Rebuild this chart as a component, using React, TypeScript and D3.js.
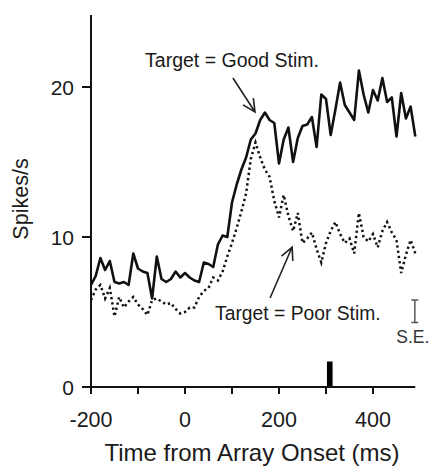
import React from "react";
import * as d3 from "d3";

// ---- data ----
const timeMs = [
  -200, -190, -180, -170, -160, -150, -140, -130, -120, -110,
  -100, -90, -80, -70, -60, -50, -40, -30, -20, -10,
  0, 10, 20, 30, 40, 50, 60, 70, 80, 90,
  100, 110, 120, 130, 140, 150, 160, 170, 180, 190,
  200, 210, 220, 230, 240, 250, 260, 270, 280, 290,
  300, 310, 320, 330, 340, 350, 360, 370, 380, 390,
  400, 410, 420, 430, 440, 450, 460, 470, 480, 490,
];
const goodStim = [
  6.8, 7.4, 8.6, 7.8, 8.4, 7.0, 6.9, 7.0, 6.8, 8.9,
  7.9, 7.7, 7.6, 5.9, 8.7, 7.2, 7.0, 7.2, 7.7, 7.3,
  7.6, 7.3, 7.1, 7.0, 8.3, 8.2, 8.0, 9.5, 10.1, 10.0,
  12.3, 13.5, 14.5, 15.3, 16.5, 16.9, 17.8, 18.3, 17.8, 17.6,
  14.9, 16.5, 17.3, 15.0, 16.6, 17.4, 17.5, 18.0, 16.0, 19.5,
  19.2, 16.8, 18.5, 20.3, 18.8, 18.3, 17.8, 21.1, 19.5, 18.3,
  19.8, 19.1, 20.6, 19.0, 19.3, 16.7, 19.6, 17.9, 18.7, 16.7,
];
const poorStim = [
  5.8, 6.5, 6.8, 5.9, 6.6, 4.7, 6.0, 5.3, 5.7, 6.0,
  5.5, 5.2, 4.8, 5.8, 5.9, 5.7, 5.5, 5.6, 5.2, 4.9,
  5.0, 5.3, 5.3, 6.0, 6.4, 6.6, 7.3, 7.1, 7.7, 8.7,
  9.6, 10.6, 11.7, 12.9, 15.2, 16.3, 15.3, 14.5, 14.0, 12.4,
  11.3, 12.8, 11.4, 10.4, 11.6, 9.6, 9.9, 10.3, 9.2, 8.3,
  9.6, 10.4, 11.0, 10.2, 9.6, 9.9, 8.9, 11.6, 10.0, 9.7,
  10.2, 9.3, 10.4, 11.0, 10.3, 9.8, 7.6, 8.8, 9.8, 8.9,
];
const xTicks = [-200, -100, 0, 100, 200, 300, 400];
const xTickLabels = ["-200", "", "0", "", "200", "", "400"];
const yTicks = [0, 10, 20];
const yTickLabels = ["0", "10", "20"];
const markerStart = [302];
const markerEnd = [314];
const markerHeight = [1.7];
const seTime = [489];
const seLow = [4.3];
const seHigh = [5.8];

const FONT = "'Liberation Sans', Arial, Helvetica, sans-serif";

export default function App() {
  const W = 432, H = 467;
  const x = d3.scaleLinear().domain([-200, 490]).range([91, 415.3]);
  const y = d3.scaleLinear().domain([0, 24.8]).range([387, 15]);

  const goodData = timeMs.map((t, i) => [t, goodStim[i]] as [number, number]);
  const poorData = timeMs.map((t, i) => [t, poorStim[i]] as [number, number]);
  const line = d3.line<[number, number]>().x(d => x(d[0])).y(d => y(d[1]));

  const arrow = (tail: [number, number], tip: [number, number]) => {
    const x0 = x(tail[0]), y0 = y(tail[1]), x1 = x(tip[0]), y1 = y(tip[1]);
    const ang = Math.atan2(y0 - y1, x0 - x1);
    const L = 14, a = (26 * Math.PI) / 180;
    const b1 = [x1 + L * Math.cos(ang + a), y1 + L * Math.sin(ang + a)];
    const b2 = [x1 + L * Math.cos(ang - a), y1 + L * Math.sin(ang - a)];
    return `M${x0},${y0}L${x1},${y1}M${b1[0]},${b1[1]}L${x1},${y1}L${b2[0]},${b2[1]}`;
  };

  const axisBottom = y(0);
  return (
    <svg width={W} height={H} style={{ position: "absolute", left: 0, top: 0, background: "#fff" }}>
      {/* marker bar */}
      <rect x={x(markerStart[0])} width={x(markerEnd[0]) - x(markerStart[0])}
        y={y(markerHeight[0])} height={y(0) - y(markerHeight[0])} fill="#000" />
      {/* axes */}
      <line x1={x(-200)} x2={x(-200)} y1={y(24.8)} y2={axisBottom + 6} stroke="#111" strokeWidth={2} />
      <line x1={x(-200)} x2={x(490)} y1={axisBottom} y2={axisBottom} stroke="#111" strokeWidth={2} />
      {yTicks.map((v, i) => (
        <g key={"y" + v}>
          <line x1={x(-200) - 9} x2={x(-200)} y1={y(v)} y2={y(v)} stroke="#111" strokeWidth={2} />
          <text x={74} y={y(v) + 7.5} textAnchor="end" fontFamily={FONT} fontSize={21} fill="#1a1a1a">{yTickLabels[i]}</text>
        </g>
      ))}
      {xTicks.map((t, i) => (
        <g key={"x" + t}>
          <line x1={x(t)} x2={x(t)} y1={axisBottom} y2={axisBottom + 7} stroke="#111" strokeWidth={2} />
          <text x={x(t)} y={427} textAnchor="middle" fontFamily={FONT} fontSize={21.5} fill="#1a1a1a">{xTickLabels[i]}</text>
        </g>
      ))}
      <text x={252} y={461} textAnchor="middle" fontFamily={FONT} fontSize={24} fill="#1a1a1a">Time from Array Onset (ms)</text>
      <text transform={`translate(28,199) rotate(-90)`} textAnchor="middle" fontFamily={FONT} fontSize={21.5} fill="#1a1a1a">Spikes/s</text>

      {/* series */}
      <path d={line(poorData) || ""} fill="none" stroke="#111" strokeWidth={2.5} strokeDasharray="2.3 3" />
      <path d={line(goodData) || ""} fill="none" stroke="#111" strokeWidth={2.6} strokeLinejoin="round" />

      {/* annotations */}
      <text x={x(-85)} y={67} fontFamily={FONT} fontSize={19.5} fill="#1a1a1a">Target = Good Stim.</text>
      <path d={arrow([102, 20.6], [149, 18.33])} fill="none" stroke="#222" strokeWidth={1.6} />
      <text x={x(64)} y={320} fontFamily={FONT} fontSize={19.3} fill="#1a1a1a">Target = Poor Stim.</text>
      <path d={arrow([181, 5.93], [228, 9.33])} fill="none" stroke="#222" strokeWidth={1.6} />

      {/* S.E. bar */}
      <g stroke="#555" strokeWidth={1.5}>
        <line x1={x(seTime[0])} x2={x(seTime[0])} y1={y(seLow[0])} y2={y(seHigh[0])} />
        <line x1={x(seTime[0]) - 3.5} x2={x(seTime[0]) + 3.5} y1={y(seLow[0])} y2={y(seLow[0])} />
        <line x1={x(seTime[0]) - 3.5} x2={x(seTime[0]) + 3.5} y1={y(seHigh[0])} y2={y(seHigh[0])} />
      </g>
      <text x={x(seTime[0]) - 2} y={343} textAnchor="middle" fontFamily={FONT} fontSize={17.5} fill="#333">S.E.</text>
    </svg>
  );
}
